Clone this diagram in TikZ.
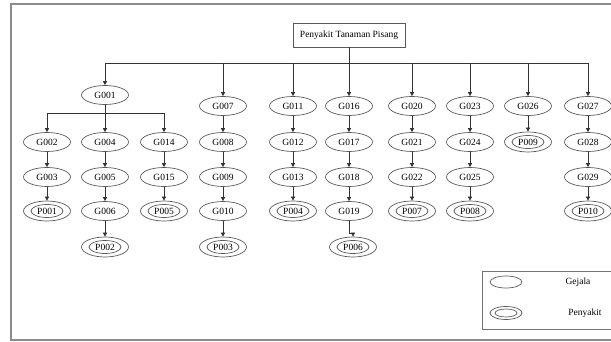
\documentclass[tikz,border=0pt]{standalone}
\usepackage{fontspec}
\setmainfont{Liberation Serif}
\usetikzlibrary{shapes.geometric,arrows.meta}
\tikzset{
  gej/.style={ellipse,draw=black!65,line width=0.7pt,minimum width=47pt,minimum height=19pt,inner sep=0pt,font=\fontsize{9.5}{10}\selectfont},
  pen/.style={gej,minimum height=20pt,path picture={\draw[black!65,line width=0.7pt] (path picture bounding box.center) ellipse (16pt and 6.5pt);}},
  ln/.style={draw=black!80,line width=0.7pt},
  arr/.style={ln,-{Triangle[length=4pt,width=4pt]}},
  frame/.style={draw=black!45,line width=1.2pt},
}
\begin{document}
\begin{tikzpicture}[x=1pt,y=-1pt]
\useasboundingbox (0,0) rectangle (611,342);
\clip (0,0) rectangle (611,342);
\draw[frame] (11,4) rectangle (650,340);
% root
\node[draw=black!65,line width=0.7pt,minimum width=112pt,minimum height=24pt,inner sep=1pt,font=\fontsize{9.5}{10}\selectfont] (root) at (349,35) {Penyakit Tanaman Pisang};
\coordinate (barL) at (105,63);
\coordinate (barR) at (588,63);
% nodes
\node[gej] (G001) at (105,95) {G001};
\node[gej] (G002) at (47,142) {G002};
\node[gej] (G003) at (47,177) {G003};
\node[pen] (P001) at (47,211) {P001};
\node[gej] (G004) at (105,142) {G004};
\node[gej] (G005) at (105,177) {G005};
\node[gej] (G006) at (105,211) {G006};
\node[pen] (P002) at (105,247) {P002};
\node[gej] (G014) at (164,142) {G014};
\node[gej] (G015) at (164,177) {G015};
\node[pen] (P005) at (164,211) {P005};
\node[gej] (G007) at (223,106) {G007};
\node[gej] (G008) at (223,142) {G008};
\node[gej] (G009) at (223,177) {G009};
\node[gej] (G010) at (223,211) {G010};
\node[pen] (P003) at (223,247) {P003};
\node[gej] (G011) at (293,106) {G011};
\node[gej] (G012) at (293,142) {G012};
\node[gej] (G013) at (293,177) {G013};
\node[pen] (P004) at (293,211) {P004};
\node[gej] (G016) at (349,106) {G016};
\node[gej] (G017) at (349,142) {G017};
\node[gej] (G018) at (349,177) {G018};
\node[gej] (G019) at (349,211) {G019};
\node[pen] (P006) at (353,247) {P006};
\node[gej] (G020) at (412,106) {G020};
\node[gej] (G021) at (412,142) {G021};
\node[gej] (G022) at (412,177) {G022};
\node[pen] (P007) at (412,211) {P007};
\node[gej] (G023) at (470,106) {G023};
\node[gej] (G024) at (470,142) {G024};
\node[gej] (G025) at (470,177) {G025};
\node[pen] (P008) at (470,211) {P008};
\node[gej] (G026) at (528,106) {G026};
\node[pen] (P009) at (528,142) {P009};
\node[gej] (G027) at (588,106) {G027};
\node[gej] (G028) at (588,142) {G028};
\node[gej] (G029) at (588,177) {G029};
\node[pen] (P010) at (588,211) {P010};
% top bar
\draw[ln] (root.south) -- (root |- barL);
\draw[ln] (barL) -- (barR);
\foreach \n in {G001,G007,G011,G016,G020,G023,G026,G027}
  \draw[arr] (\n |- barL) -- (\n.north);
% G001 branch
\coordinate (b1L) at (47,113);
\coordinate (b1R) at (164,113);
\draw[ln] (G001.south) -- (G001 |- b1L);
\draw[ln] (b1L) -- (b1R);
\foreach \n in {G002,G004,G014}
  \draw[arr] (\n |- b1L) -- (\n.north);
% chains
\foreach \a/\b in {G002/G003,G003/P001,G004/G005,G005/G006,G006/P002,G014/G015,G015/P005,
  G007/G008,G008/G009,G009/G010,G010/P003,G011/G012,G012/G013,G013/P004,
  G016/G017,G017/G018,G018/G019,G020/G021,G021/G022,G022/P007,
  G023/G024,G024/G025,G025/P008,G026/P009,G027/G028,G028/G029,G029/P010}
  \draw[arr] (\a.south) -- (\b.north);
\coordinate (jog) at (349,233);
\draw[arr] (G019.south) -- (jog) -| (P006.north);
% legend
\draw[draw=black!55,line width=0.8pt] (482,271) rectangle (640,329);
\node[ellipse,draw=black!65,line width=0.7pt,minimum width=32pt,minimum height=12pt,inner sep=0pt] (lg) at (506,282) {};
\node[ellipse,draw=black!65,line width=0.7pt,minimum width=32pt,minimum height=13pt,inner sep=0pt,path picture={\draw[black!65,line width=0.7pt] (path picture bounding box.center) ellipse (11pt and 4pt);}] (lp) at (506,313) {};
\node[font=\fontsize{9.5}{10}\selectfont] (tg) at (578,282) {Gejala};
\node[font=\fontsize{9.5}{10}\selectfont] (tp) at (585,313) {Penyakit};
\end{tikzpicture}
\end{document}
